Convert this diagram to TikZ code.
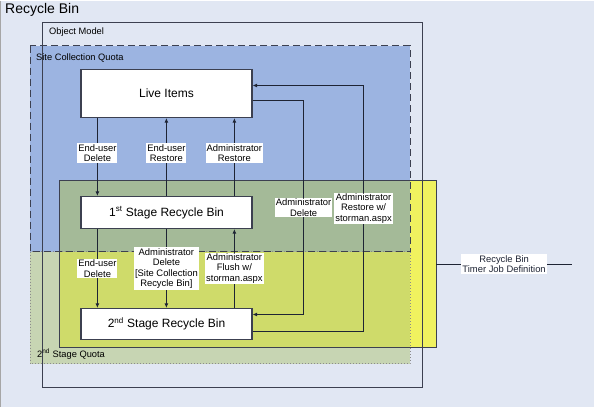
\documentclass[tikz,border=0pt]{standalone}
\usepackage{fontspec}
\setmainfont{Liberation Sans}
\usetikzlibrary{arrows.meta, positioning}
\definecolor{bgc}{RGB}{225,231,243}
\definecolor{quotablue}{RGB}{89,131,209}
\definecolor{quotagreen}{RGB}{175,197,117}
\definecolor{timeryellow}{RGB}{240,242,95}
\definecolor{linec}{RGB}{30,36,52}
\definecolor{framec}{RGB}{60,64,80}
\tikzset{
  binbox/.style={draw=framec, fill=white, line width=1.2pt, minimum width=171pt, inner sep=0pt, font=\fontsize{12}{14}\selectfont},
  lbl/.style={fill=white, inner sep=1pt, align=center, font=\fontsize{9.4}{10.5}\selectfont},
  conn/.style={draw=linec, line width=0.9pt, -{Latex[length=4.5pt,width=4pt]}},
  region/.style={anchor=west, inner sep=0pt, font=\fontsize{9.3}{11}\selectfont}
}

\begin{document}
\begin{tikzpicture}[x=1pt,y=-1pt]
  % Background
  \fill[bgc] (0,0) rectangle (594,406);
  \draw[gray!70, line width=1pt] (0.5,0) -- (0.5,406);
  \node[anchor=west, inner sep=0pt, font=\fontsize{14}{16}\selectfont] (title) at (5,9) {Recycle Bin};

  % Timer job area and the two quotas
  \node[fill=timeryellow, minimum width=376pt, minimum height=167pt, inner sep=0pt] (timer) at (248,263.5) {};
  \fill[quotablue, fill opacity=0.5] (30,45) rectangle (410,251);
  \fill[quotagreen, fill opacity=0.5] (30,251) rectangle (410,363);
  \draw[framec, line width=0.8pt] (timer.north west) rectangle (timer.south east);
  \draw[gray!90, line width=1pt, dash pattern=on 1pt off 2pt] (30,251) rectangle (410,363);
  \draw[framec, line width=1pt, dash pattern=on 7pt off 4pt] (30,45) rectangle (410,251);

  % Object model
  \draw[framec, line width=0.8pt] (42,22) rectangle (422,387);
  \node[region] (om) at (49,32) {Object Model};
  \node[region] (scq) at (36,58) {Site Collection Quota};
  \node[region] (ssq) at (37,354) {2\textsuperscript{nd} Stage Quota};

  % Bins
  \node[binbox, minimum height=48pt] (live) at (166.5,93) {Live Items};
  \node[binbox, minimum height=32pt] (first) at (166.5,212) {1\textsuperscript{st} Stage Recycle Bin};
  \node[binbox, minimum height=31pt] (second) at (166.5,323.5) {2\textsuperscript{nd} Stage Recycle Bin};

  % Live items <-> 1st stage
  \draw[conn] ([xshift=17pt]live.south west) -- node[lbl, pos=0.45] (eudel) {End-user\\Delete} ([xshift=17pt]first.north west);
  \draw[conn] ([xshift=86pt]first.north west) -- node[lbl, pos=0.55] (eures) {End-user\\Restore} ([xshift=86pt]live.south west);
  \draw[conn] ([xshift=154pt]first.north west) -- node[lbl, pos=0.55] (adres) {Administrator\\Restore} ([xshift=154pt]live.south west);

  % 1st stage <-> 2nd stage
  \draw[conn] ([xshift=17pt]first.south west) -- node[lbl] (eudeltwo) {End-user\\Delete} ([xshift=17pt]second.north west);
  \draw[conn] ([xshift=86pt]first.south west) -- node[lbl] (addeltwo) {Administrator\\Delete\\{[}Site Collection\\Recycle Bin{]}} ([xshift=86pt]second.north west);
  \draw[conn] ([xshift=154pt]second.north west) -- node[lbl] (adflush) {Administrator\\Flush w/\\storman.aspx} ([xshift=154pt]first.south west);

  % Live items <-> 2nd stage
  \draw[conn] ([yshift=-7pt]live.east) -- ++(51,0) |- node[lbl, pos=0.25] (addel) {Administrator\\Delete} ([yshift=9.5pt]second.east);
  \draw[conn] ([yshift=-7.5pt]second.east) -- ++(111,0) |- node[lbl, pos=0.25] (adrsw) {Administrator\\Restore w/\\storman.aspx} ([yshift=8pt]live.east);

  % Timer job
  \coordinate (tjend) at (572,263.5);
  \draw[linec, line width=0.8pt] (timer.east) -- node[lbl] (tjob) {Recycle Bin\\Timer Job Definition} (tjend);
\end{tikzpicture}
\end{document}
